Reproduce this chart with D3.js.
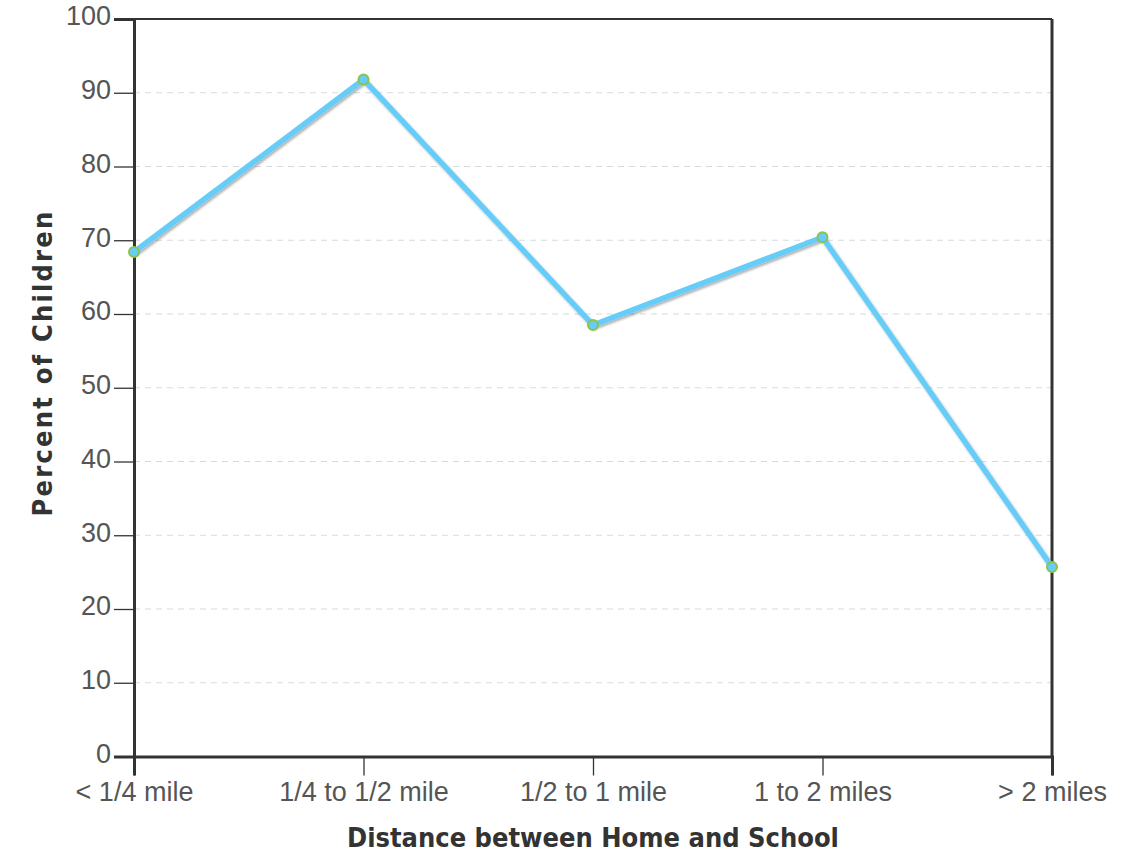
<!DOCTYPE html>
<html>
<head>
<meta charset="utf-8">
<script src="https://cdn.jsdelivr.net/npm/d3@7"></script>
<style>
  html, body { margin: 0; padding: 0; background: #fff; }
  svg { display: block; }
</style>
</head>
<body>
<svg id="chart" width="1143" height="861"></svg>
<script>
const categories = ["< 1/4 mile", "1/4 to 1/2 mile", "1/2 to 1 mile", "1 to 2 miles", "> 2 miles"];
const percentValues = [68.4, 91.8, 58.5, 70.4, 25.7];
const yTickValues = [0, 10, 20, 30, 40, 50, 60, 70, 80, 90, 100];
const xAxisTitle = "Distance between Home and School";
const yAxisTitle = "Percent of Children";

const svg = d3.select("#chart");
const W = 1143, H = 861;
const margin = { top: 19, right: 91, bottom: 104.5, left: 134 };
const iw = W - margin.left - margin.right;
const ih = H - margin.top - margin.bottom;

const defs = svg.append("defs");
const f = defs.append("filter").attr("id", "shadow")
  .attr("x", "-5%").attr("y", "-5%").attr("width", "110%").attr("height", "110%");
f.append("feDropShadow").attr("dx", 1.5).attr("dy", 2).attr("stdDeviation", 1)
  .attr("flood-color", "#000").attr("flood-opacity", 0.3);

const g = svg.append("g").attr("transform", `translate(${margin.left},${margin.top})`);

const x = d3.scalePoint().domain(categories).range([0, iw]).padding(0);
const y = d3.scaleLinear().domain([0, 100]).range([ih, 0]);

const tickFont = "'Liberation Sans', Arial, sans-serif";
const titleFont = "'DejaVu Sans Condensed', 'DejaVu Sans', sans-serif";

// grid lines
g.append("g").selectAll("line")
  .data(yTickValues.filter(v => v > 0))
  .join("line")
  .attr("x1", 0).attr("x2", iw)
  .attr("y1", d => y(d)).attr("y2", d => y(d))
  .attr("stroke", "#d3dbdf").attr("stroke-width", 1.2)
  .attr("stroke-dasharray", "6,5");

// frame top and right
g.append("line").attr("x1", 0).attr("x2", iw).attr("y1", 0).attr("y2", 0)
  .attr("stroke", "#333").attr("stroke-width", 2);
g.append("line").attr("x1", iw).attr("x2", iw).attr("y1", 0).attr("y2", ih)
  .attr("stroke", "#333").attr("stroke-width", 3);

// y axis
const yAxis = g.append("g")
  .call(d3.axisLeft(y).tickValues(yTickValues).tickSize(20).tickPadding(3).tickFormat(d3.format("d")));
yAxis.select(".domain").attr("stroke", "#333").attr("stroke-width", 3);
yAxis.selectAll(".tick line").attr("stroke", "#333").attr("stroke-width", 1.3);
yAxis.selectAll(".tick text")
  .attr("font-family", tickFont)
  .attr("font-size", 27).attr("fill", "#555").attr("dy", "0.22em");

// x axis
const xAxis = g.append("g").attr("transform", `translate(0,${ih})`)
  .call(d3.axisBottom(x).tickSize(19).tickPadding(6));
xAxis.select(".domain").attr("stroke", "#333").attr("stroke-width", 3);
xAxis.selectAll(".tick line").attr("stroke", "#333").attr("stroke-width", 1.3);
xAxis.selectAll(".tick text")
  .attr("font-family", tickFont)
  .attr("font-size", 27).attr("fill", "#555");

// line
const data = categories.map((c, i) => ({ c, v: percentValues[i] }));
const line = d3.line().x(d => x(d.c)).y(d => y(d.v));
g.append("path").datum(data)
  .attr("d", line)
  .attr("fill", "none")
  .attr("stroke", "#66ccf8")
  .attr("stroke-width", 5.5)
  .attr("stroke-linejoin", "miter")
  .attr("filter", "url(#shadow)");

// markers
g.append("g").selectAll("circle").data(data).join("circle")
  .attr("cx", d => x(d.c)).attr("cy", d => y(d.v))
  .attr("r", 5)
  .attr("fill", "#66ccf8")
  .attr("stroke", "#8cc34a")
  .attr("stroke-width", 2);

// axis titles
svg.append("text")
  .attr("x", margin.left + iw / 2).attr("y", 847)
  .attr("text-anchor", "middle")
  .attr("font-family", titleFont)
  .attr("font-weight", "bold").attr("font-size", 27).attr("fill", "#333")
  .text(xAxisTitle);

svg.append("text")
  .attr("transform", `translate(52,363) rotate(-90)`)
  .attr("text-anchor", "middle")
  .attr("font-family", titleFont)
  .attr("font-weight", "bold").attr("font-size", 27).attr("fill", "#333")
  .attr("letter-spacing", "2.2px")
  .text(yAxisTitle);
</script>
</body>
</html>
